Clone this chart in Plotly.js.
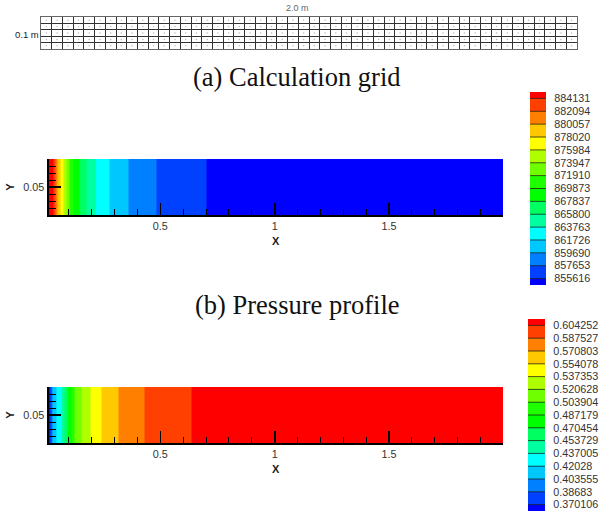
<!DOCTYPE html>
<html><head><meta charset="utf-8"><script src="https://cdn.plot.ly/plotly-3.0.1.min.js"></script>
<style>html,body{margin:0;padding:0;background:#fff}</style></head><body><div id="c" style="width:605px;height:517px"></div>
<script>
var gridX=[0,0.04,0.08,0.12,0.16,0.2,0.24,0.28,0.32,0.36,0.4,0.44,0.48,0.52,0.56,0.6,0.64,0.68,0.72,0.76,0.8,0.84,0.88,0.92,0.96,1,1.04,1.08,1.12,1.16,1.2,1.24,1.28,1.32,1.36,1.4,1.44,1.48,1.52,1.56,1.6,1.64,1.68,1.72,1.76,1.8,1.84,1.88,1.92,1.96,2];
var gridY=[0,0.02,0.04,0.06,0.08,0.1];
var bandColors=['#0000ff','#0040ff','#0080ff','#00c8ff','#00ffff','#00ffa0','#00ff60','#00ff00','#20ff00','#70ff00','#b0ff00','#ffff00','#ffc800','#ff8000','#ff4000','#ff0000'];
var pressureLevels=[855616,857653,859690,861726,863763,865800,867837,869873,871910,873947,875984,878020,880057,882094,884131];
var pressureEdges=[0.011,0.033,0.041,0.05,0.063,0.076,0.09,0.103,0.12,0.146,0.177,0.216,0.277,0.36,0.483,0.701,1.998];
var pressureBands=[15,14,13,12,11,10,9,8,7,6,5,4,3,2,1,0];
var fractionLevels=[0.370106,0.38683,0.403555,0.42028,0.437005,0.453729,0.470454,0.487179,0.503904,0.520628,0.537353,0.554078,0.570803,0.587527,0.604252];
var fractionEdges=[0.011,0.017,0.022,0.028,0.046,0.066,0.083,0.094,0.111,0.124,0.155,0.194,0.242,0.317,0.43,0.635,1.998];
var fractionBands=[0,1,2,3,4,5,6,7,8,9,10,11,12,13,14,15];
var fieldY=[0,0.1];
var legendBands=[0,1,2,3,4,5,6,7,8,9,10,11,12,13,14,15];
var legendEdges=[0,0.5,1.5,2.5,3.5,4.5,5.5,6.5,7.5,8.5,9.5,10.5,11.5,12.5,13.5,14.5,15];
var legendTicks=[0.5,1.5,2.5,3.5,4.5,5.5,6.5,7.5,8.5,9.5,10.5,11.5,12.5,13.5,14.5];
var cs=[];bandColors.forEach(function(c,i){cs.push([i/16,c]);cs.push([(i+1)/16,c]);});
var W=605,H=517;
function dx(a,b){return [a/W,b/W];}
function dy(t,b){return [1-b/H,1-t/H];}
function field(x,y,bands,xa,ya){return {type:'heatmap',x:x,y:y,z:[bands],zmin:-0.5,zmax:15.5,colorscale:cs,showscale:false,xaxis:xa,yaxis:ya,hoverinfo:'skip'};}
function legend(xa,ya){return {type:'heatmap',x:[0,1],y:legendEdges,z:legendBands.map(function(b){return [b];}),zmin:-0.5,zmax:15.5,colorscale:cs,showscale:false,xaxis:xa,yaxis:ya,hoverinfo:'skip'};}
function levelLines(xa,ya){var x=[],y=[];legendTicks.forEach(function(t){x.push(0,1,null);y.push(t,t,null);});
 return {type:'scatter',mode:'lines',x:x,y:y,xaxis:xa,yaxis:ya,line:{color:'#1a1a1a',width:1},opacity:0.75,hoverinfo:'skip',showlegend:false};}
var cx=[],cy=[];
for(var i=0;i<gridX.length-1;i++)for(var j=0;j<gridY.length-1;j++){cx.push((gridX[i]+gridX[i+1])/2);cy.push((gridY[j]+gridY[j+1])/2);}
var data=[
 {type:'scatter',mode:'markers',x:cx,y:cy,xaxis:'x',yaxis:'y',marker:{size:1.5,color:'#bbbbbb'},hoverinfo:'skip',showlegend:false},
 field(pressureEdges,fieldY,pressureBands,'x2','y2'),
 field(fractionEdges,fieldY,fractionBands,'x3','y3'),
 legend('x4','y4'),levelLines('x4','y4'),
 legend('x5','y5'),levelLines('x5','y5')
];
var sans='Liberation Sans, Arial, sans-serif';
var tf={family:sans,size:10.8,color:'#333'};
var fieldX=function(dom,anchor){return {domain:dom,anchor:anchor,range:[0.011,1.998],tickvals:[0.5,1,1.5],ticktext:['0.5','1','1.5'],ticks:'inside',ticklen:12,tickwidth:1.6,tickcolor:'#000',minor:{tickmode:'array',ticks:'inside',ticklen:6,tickwidth:1,tickcolor:'#000',tickvals:[0.1,0.2,0.3,0.4,0.6,0.7,0.8,0.9,1.1,1.2,1.3,1.4,1.6,1.7,1.8,1.9]},showgrid:false,zeroline:false,showline:true,linecolor:'#000',linewidth:2,tickfont:tf,title:{text:'<b>X</b>',font:{family:sans,size:11,color:'#222'},standoff:6},automargin:false};};
var fieldYA=function(dom,anchor){return {domain:dom,anchor:anchor,range:[0,0.1],tickvals:[0.05],ticktext:['0.05'],ticks:'inside',ticklen:12,tickwidth:1.6,tickcolor:'#000',minor:{tickmode:'array',ticks:'inside',ticklen:7,tickwidth:1,tickcolor:'#000',tickvals:[0.0125,0.025,0.0375,0.0625,0.075,0.0875]},showgrid:false,zeroline:false,showline:true,linecolor:'#000',linewidth:2,tickfont:tf,title:{text:'<b>Y</b>',font:{family:sans,size:11,color:'#222'},standoff:6},automargin:false};};
function legX(dom,anchor){return {domain:dom,anchor:anchor,range:[0,1],showticklabels:false,ticks:'',showgrid:false,zeroline:false,showline:false};}
function legY(dom,anchor,levels){return {domain:dom,anchor:anchor,side:'right',range:[0,15],tickvals:legendTicks,ticktext:levels.map(String),ticks:'outside',ticklen:5,tickcolor:'rgba(255,255,255,0)',showgrid:false,zeroline:false,showline:false,tickfont:tf,automargin:false};}
function note(x,y,text,font){return {xref:'paper',yref:'paper',x:x/W,y:1-y/H,xanchor:'center',yanchor:'middle',text:text,showarrow:false,font:font};}
var serif={family:'Liberation Serif, Times New Roman, serif',size:26.5,color:'#111'};
var layout={width:W,height:H,margin:{l:0,r:0,t:0,b:0},paper_bgcolor:'#fff',plot_bgcolor:'#fff',showlegend:false,
 xaxis:{domain:dx(41,577),anchor:'y',range:[0,2],tickmode:'array',tickvals:gridX,showticklabels:false,ticks:'',showgrid:true,gridcolor:'#333',gridwidth:1,zeroline:false,showline:true,mirror:true,linecolor:'#666',linewidth:1},
 yaxis:{domain:dy(17,49),anchor:'x',range:[0,0.1],tickmode:'array',tickvals:gridY,showticklabels:false,ticks:'',showgrid:true,gridcolor:'#333',gridwidth:1,zeroline:false,showline:true,mirror:true,linecolor:'#666',linewidth:1},
 xaxis2:fieldX(dx(48.5,503),'y2'),yaxis2:fieldYA(dy(159,215),'x2'),
 xaxis3:fieldX(dx(48.5,503),'y3'),yaxis3:fieldYA(dy(387,443),'x3'),
 xaxis4:legX(dx(530,546),'y4'),yaxis4:legY(dy(92,285),'x4',pressureLevels),
 xaxis5:legX(dx(528,545),'y5'),yaxis5:legY(dy(319,511),'x5',fractionLevels),
 annotations:[
  note(297,8,'2.0 m',{family:sans,size:9,color:'#666'}),
  note(27,34,'0.1 m',{family:sans,size:9.5,color:'#222'}),
  note(297,77,'(a) Calculation grid',serif),
  note(297,305,'(b) Pressure profile',serif)
 ]};
Plotly.newPlot('c',data,layout,{displayModeBar:false,staticPlot:true});
</script></body></html>
